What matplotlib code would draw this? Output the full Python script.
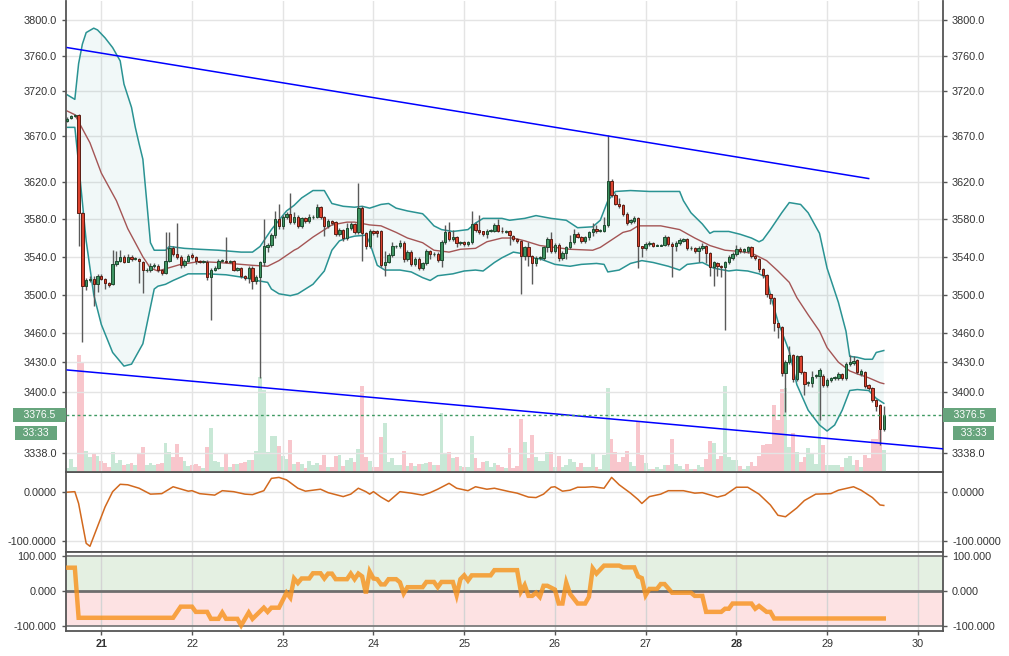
import matplotlib

matplotlib.use("Agg")
import matplotlib.pyplot as plt
import numpy as np
from matplotlib.ticker import FixedLocator, FormatStrFormatter, NullLocator

plt.rcParams["font.family"] = ["Liberation Sans", "DejaVu Sans"]

# hourly candles, the first one opens on the 20th at 15:00
start_hour = 15
opens = [
    3687, 3690, 3692, 3694, 3587, 3509, 3516, 3517, 3511, 3520,
    3517, 3512, 3511, 3532, 3536, 3540, 3535, 3540, 3538, 3538,
    3534, 3526, 3526, 3530, 3530, 3526, 3523, 3536, 3549, 3543,
    3540, 3531, 3536, 3542, 3540, 3536, 3535, 3535, 3519, 3526,
    3528, 3536, 3536, 3534, 3536, 3526, 3528, 3520, 3518, 3528,
    3514, 3519, 3534, 3550, 3553, 3563, 3580, 3573, 3583, 3586,
    3577, 3583, 3573, 3581, 3578, 3582, 3583, 3593, 3583, 3573,
    3578, 3577, 3564, 3569, 3560, 3571, 3575, 3566, 3592, 3565,
    3551, 3568, 3568, 3568, 3531, 3535, 3542, 3551, 3551, 3555,
    3538, 3545, 3532, 3538, 3528, 3533, 3546, 3543, 3543, 3537,
    3556, 3566, 3559, 3561, 3555, 3556, 3554, 3556, 3575, 3569,
    3567, 3564, 3568, 3568, 3574, 3568, 3566, 3568, 3562, 3559,
    3557, 3541, 3550, 3541, 3533, 3539, 3539, 3550, 3559, 3546,
    3553, 3539, 3544, 3550, 3556, 3564, 3561, 3557, 3561, 3566,
    3570, 3568, 3568, 3574, 3621, 3606, 3597, 3595, 3586, 3577,
    3578, 3581, 3551, 3549, 3554, 3555, 3552, 3552, 3553, 3561,
    3554, 3551, 3555, 3557, 3559, 3549, 3549, 3546, 3549, 3552,
    3544, 3529, 3533, 3530, 3529, 3534, 3539, 3543, 3548, 3546,
    3546, 3550, 3541, 3538, 3527, 3521, 3501, 3497, 3470, 3466,
    3419, 3430, 3437, 3413, 3436, 3420, 3409, 3409, 3416, 3416,
    3416, 3407, 3412, 3414, 3414, 3418, 3414, 3428, 3429, 3432,
    3418, 3420, 3407, 3404, 3391, 3386, 3362,
]
highs = [
    3691, 3694, 3695, 3695, 3588, 3518, 3520, 3520, 3522, 3522,
    3518, 3513, 3547, 3546, 3547, 3542, 3543, 3542, 3540, 3539,
    3536, 3528, 3533, 3533, 3532, 3527, 3566, 3566, 3551, 3576,
    3542, 3538, 3543, 3544, 3541, 3537, 3537, 3537, 3528, 3530,
    3538, 3538, 3561, 3537, 3537, 3529, 3529, 3521, 3530, 3530,
    3521, 3536, 3580, 3555, 3565, 3589, 3597, 3585, 3588, 3608,
    3588, 3585, 3583, 3582, 3586, 3585, 3596, 3594, 3584, 3580,
    3579, 3578, 3571, 3570, 3576, 3577, 3576, 3619, 3594, 3566,
    3570, 3569, 3569, 3569, 3546, 3544, 3556, 3553, 3558, 3557,
    3547, 3547, 3540, 3540, 3535, 3548, 3547, 3545, 3545, 3558,
    3574, 3577, 3569, 3562, 3557, 3557, 3557, 3589, 3577, 3585,
    3568, 3570, 3570, 3576, 3580, 3572, 3569, 3569, 3563, 3560,
    3558, 3552, 3556, 3542, 3541, 3541, 3552, 3561, 3566, 3555,
    3555, 3546, 3552, 3563, 3570, 3566, 3562, 3562, 3568, 3576,
    3574, 3570, 3582, 3672, 3623, 3608, 3603, 3596, 3588, 3580,
    3584, 3583, 3552, 3556, 3557, 3556, 3554, 3554, 3563, 3562,
    3556, 3557, 3560, 3560, 3560, 3551, 3550, 3551, 3555, 3553,
    3545, 3536, 3535, 3531, 3536, 3542, 3545, 3553, 3550, 3549,
    3552, 3551, 3542, 3539, 3528, 3522, 3502, 3498, 3471, 3467,
    3432, 3447, 3438, 3437, 3437, 3421, 3411, 3421, 3418, 3424,
    3418, 3414, 3415, 3416, 3420, 3419, 3430, 3437, 3436, 3433,
    3423, 3421, 3408, 3405, 3392, 3387, 3385,
]
lows = [
    3686, 3689, 3691, 3551, 3451, 3505, 3513, 3488, 3503, 3515,
    3506, 3508, 3510, 3530, 3534, 3533, 3534, 3536, 3537, 3512,
    3502, 3524, 3524, 3528, 3524, 3521, 3522, 3534, 3541, 3538,
    3528, 3529, 3535, 3538, 3532, 3533, 3533, 3516, 3474, 3525,
    3527, 3535, 3533, 3533, 3525, 3525, 3518, 3515, 3512, 3506,
    3511, 3414, 3530, 3545, 3550, 3560, 3570, 3570, 3580, 3575,
    3575, 3571, 3571, 3576, 3576, 3580, 3581, 3580, 3562, 3571,
    3574, 3562, 3562, 3557, 3558, 3569, 3564, 3564, 3536, 3548,
    3549, 3563, 3561, 3529, 3520, 3533, 3540, 3549, 3549, 3535,
    3536, 3530, 3530, 3526, 3526, 3531, 3538, 3541, 3535, 3529,
    3554, 3557, 3557, 3550, 3553, 3552, 3552, 3554, 3566, 3564,
    3562, 3560, 3566, 3566, 3566, 3565, 3565, 3553, 3557, 3555,
    3501, 3537, 3530, 3511, 3530, 3537, 3537, 3545, 3544, 3544,
    3536, 3537, 3538, 3548, 3554, 3560, 3555, 3555, 3558, 3562,
    3565, 3566, 3566, 3572, 3604, 3595, 3592, 3584, 3574, 3575,
    3576, 3528, 3540, 3547, 3552, 3550, 3551, 3551, 3551, 3552,
    3519, 3546, 3553, 3556, 3547, 3547, 3544, 3535, 3547, 3533,
    3520, 3509, 3520, 3519, 3463, 3532, 3537, 3541, 3544, 3544,
    3544, 3539, 3537, 3524, 3518, 3498, 3490, 3462, 3455, 3416,
    3379, 3428, 3410, 3411, 3418, 3396, 3406, 3405, 3414, 3371,
    3405, 3405, 3410, 3412, 3412, 3412, 3412, 3426, 3427, 3418,
    3416, 3404, 3402, 3389, 3380, 3346, 3360,
]
closes = [
    3689, 3692, 3694, 3587, 3509, 3516, 3516.5, 3511, 3520, 3517,
    3512, 3510, 3532, 3536, 3540, 3535, 3540, 3538, 3538.5, 3536,
    3526, 3526.5, 3530, 3531, 3526, 3523, 3536, 3549, 3543, 3540,
    3531, 3536, 3541, 3540, 3536, 3534, 3535.5, 3519, 3526, 3528,
    3536, 3536.5, 3534, 3536, 3526, 3528, 3520, 3518, 3528, 3514,
    3519, 3534, 3551, 3553, 3563, 3580, 3573, 3583, 3586, 3577,
    3583, 3573, 3581, 3578, 3582, 3583, 3593, 3583, 3573, 3578,
    3576, 3564, 3569, 3560, 3571, 3575, 3566, 3592, 3565, 3551,
    3568, 3565, 3565, 3531, 3535, 3542, 3551, 3551.5, 3555, 3538,
    3545, 3532, 3538, 3528, 3533, 3546, 3543, 3543.5, 3537, 3556,
    3566, 3559, 3561, 3555, 3555.5, 3554, 3556, 3575, 3569, 3566,
    3564, 3568, 3568.5, 3574, 3568, 3567, 3568, 3563, 3559, 3557,
    3541, 3550, 3541, 3533, 3539, 3539.5, 3550, 3559, 3546, 3553,
    3539, 3544, 3550, 3556, 3564, 3561, 3557, 3561, 3566, 3570,
    3567, 3568.5, 3574, 3621, 3606, 3597, 3594, 3586, 3576, 3579,
    3581, 3551, 3549, 3554, 3555, 3552, 3552.5, 3553, 3561, 3554,
    3551, 3555, 3558, 3559, 3549, 3549.5, 3546, 3549, 3552, 3544,
    3529, 3534, 3530, 3529, 3534, 3540, 3543, 3548, 3546, 3548,
    3550, 3541, 3539, 3527, 3521, 3501, 3497, 3470, 3466, 3419,
    3430, 3437, 3413, 3436, 3420, 3408, 3409.5, 3415, 3416.5, 3422,
    3407, 3412, 3414, 3414.5, 3418, 3414, 3428, 3430, 3431, 3420,
    3421, 3406, 3404, 3391, 3385, 3362, 3376.5,
]
volumes = [
    4, 13, 5, 117, 109, 21, 15, 19, 16, 11,
    9, 5, 20, 9, 12, 7, 8, 9, 7, 19,
    25, 7, 9, 7, 8, 9, 29, 20, 15, 28,
    15, 11, 6, 7, 8, 6, 4, 25, 44, 11,
    10, 5, 18, 5, 8, 8, 9, 10, 12, 12,
    21, 95, 82, 20, 36, 36, 26, 16, 13, 32,
    8, 10, 8, 4, 11, 7, 9, 7, 17, 5,
    5, 16, 17, 6, 12, 14, 10, 23, 86, 15,
    11, 5, 5, 35, 49, 10, 14, 7, 7, 21,
    6, 9, 6, 8, 8, 9, 10, 7, 7, 59,
    19, 20, 14, 15, 6, 5, 5, 36, 14, 4,
    10, 11, 5, 9, 7, 5, 4, 24, 4, 6,
    53, 30, 14, 37, 15, 11, 11, 20, 20, 5,
    16, 5, 7, 13, 10, 5, 9, 5, 5, 19,
    5, 3, 17, 84, 33, 20, 10, 15, 21, 10,
    6, 50, 17, 9, 3, 3, 5, 3, 7, 7,
    33, 8, 6, 3, 8, 3, 3, 7, 5, 13,
    31, 29, 13, 16, 86, 15, 12, 12, 6, 3,
    6, 10, 6, 16, 27, 28, 28, 67, 52, 83,
    84, 25, 39, 20, 10, 15, 24, 19, 8, 102,
    27, 7, 7, 7, 7, 5, 14, 16, 7, 12,
    5, 17, 14, 33, 33, 42, 22,
]

# bollinger band at these candle numbers
bb_upper_idx = [0, 2, 3, 4, 5, 7, 8, 10, 12, 14, 15, 17, 18, 19, 20, 21, 22, 23, 26, 27,
                31, 35, 40, 46, 49, 51, 54, 58, 60, 62, 65, 68, 70, 73, 76, 78, 80, 83, 85, 87,
                90, 94, 95, 97, 99, 102, 106, 108, 110, 115, 117, 121, 124, 128, 132, 135, 139, 141, 143, 145,
                149, 154, 162, 163, 165, 168, 170, 171, 175, 178, 181, 183, 184, 186, 189, 191, 194, 196, 199, 201,
                204, 206, 207, 209, 211, 213, 214, 216]
bb_upper = [3716, 3711, 3751, 3773, 3786, 3791, 3789, 3780, 3769, 3754, 3728, 3702, 3680, 3662, 3645, 3600, 3555, 3547, 3547, 3551,
            3549, 3548, 3547, 3545, 3545, 3551, 3569, 3589, 3595, 3603, 3611, 3611, 3597, 3594, 3593, 3594, 3592, 3596, 3597, 3592,
            3589, 3586, 3582, 3573, 3569, 3567, 3569, 3576, 3581, 3581, 3579, 3581, 3584, 3581, 3579, 3571, 3572, 3579, 3600, 3610,
            3611, 3610, 3610, 3600, 3587, 3575, 3565, 3567, 3567, 3564, 3560, 3556, 3558, 3569, 3587, 3598, 3596, 3587, 3565, 3528,
            3492, 3462, 3436, 3435, 3433, 3433, 3440, 3442]
bb_lower_idx = [0, 2, 3, 5, 7, 9, 12, 15, 17, 20, 22, 23, 24, 26, 28, 32, 37, 42, 47, 50,
                53, 54, 56, 59, 61, 65, 68, 70, 72, 74, 76, 79, 80, 82, 84, 88, 91, 94, 96, 98,
                102, 105, 108, 110, 113, 115, 118, 121, 124, 125, 129, 133, 136, 140, 142, 143, 146, 149, 152, 155,
                159, 162, 164, 168, 171, 175, 177, 180, 183, 185, 186, 188, 191, 193, 196, 199, 201, 203, 205, 207,
                209, 212, 214, 216]
bb_lower = [3680, 3680, 3640, 3557, 3500, 3469, 3440, 3426, 3428, 3449, 3487, 3506, 3509, 3511, 3515, 3522, 3522, 3521, 3518, 3515,
            3513, 3506, 3501, 3499, 3501, 3511, 3525, 3547, 3557, 3560, 3562, 3563, 3555, 3531, 3526, 3526, 3524, 3518, 3515, 3520,
            3522, 3525, 3526, 3525, 3534, 3539, 3545, 3543, 3538, 3538, 3532, 3530, 3532, 3533, 3532, 3524, 3526, 3533, 3536, 3534,
            3530, 3526, 3532, 3534, 3528, 3525, 3526, 3525, 3522, 3518, 3500, 3472, 3441, 3407, 3381, 3366, 3360, 3366, 3381, 3401,
            3402, 3401, 3393, 3388]
bb_mid_idx = [0, 2, 6, 9, 13, 16, 20, 22, 24, 30, 35, 40, 46, 49, 53, 56, 60, 61, 65, 70,
              74, 76, 80, 83, 87, 90, 94, 97, 101, 104, 108, 111, 115, 118, 121, 125, 129, 133, 139, 141,
              144, 147, 149, 151, 157, 162, 166, 170, 174, 177, 181, 183, 185, 188, 191, 193, 196, 199, 201, 204,
              207, 209, 212, 215, 216]
bb_mid = [3698, 3694, 3663, 3630, 3600, 3570, 3540, 3528, 3525, 3532, 3535, 3534, 3532, 3531, 3530, 3536, 3547, 3549, 3561, 3574,
          3577, 3577, 3574, 3573, 3566, 3560, 3555, 3547, 3545, 3548, 3549, 3556, 3560, 3560, 3557, 3552, 3550, 3548, 3547, 3550,
          3558, 3566, 3568, 3573, 3573, 3569, 3560, 3552, 3547, 3546, 3544, 3540, 3536, 3525, 3513, 3497, 3479, 3462, 3445, 3430,
          3421, 3418, 3414, 3409, 3408]

# the two channel lines: (candle number, price) at each end
upper_trend_idx = [0, 212]
upper_trend = [3769, 3624]
lower_trend_idx = [0, 232]
lower_trend = [3422, 3342]

# middle panel oscillator
osc_idx = [0, 2, 3, 5, 6, 8, 10, 12, 14, 16, 19, 22, 25, 28, 32, 33, 35, 39, 41, 44,
           47, 49, 52, 54, 56, 58, 61, 63, 67, 69, 73, 75, 77, 79, 80, 81, 83, 85, 88, 91,
           94, 96, 98, 101, 103, 106, 108, 111, 113, 117, 119, 122, 124, 126, 128, 129, 131, 133, 135, 137,
           139, 142, 144, 146, 149, 151, 152, 154, 157, 159, 163, 166, 168, 172, 174, 177, 180, 183, 186, 188,
           190, 193, 195, 198, 202, 204, 208, 210, 213, 215, 216]
osc = [-1, 0, -24, -105, -111, -71, -31, 0, 15, 14, 7, -5, -4, 10, 1, 2, -4, -7, 2, 0,
       -5, -6, 2, 27, 29, 24, 7, 1, 5, -2, -10, -5, 7, 0, -5, 0, -11, -20, 0, -3,
       -7, -2, 5, 17, 7, 2, 10, 5, 7, 0, -3, -11, -12, -5, 9, 10, 1, 3, 9, 9,
       10, 7, 29, 14, -3, -16, -24, -10, -5, 2, 2, -3, -2, -11, -7, 9, 9, -5, -27, -48,
       -51, -33, -18, -5, -4, 3, 10, 3, -12, -27, -28]

# bottom panel oscillator
aroon_idx = [0, 2, 3, 28, 30, 33, 34, 37, 38, 40, 41, 42, 45, 46, 48, 49, 52, 53, 54, 56,
             58, 59, 60, 61, 62, 64, 65, 67, 68, 69, 70, 71, 74, 75, 76, 77, 78, 79, 80, 81,
             82, 83, 84, 85, 87, 88, 89, 90, 94, 95, 97, 98, 99, 102, 103, 104, 105, 106, 107, 112,
             113, 119, 120, 121, 122, 123, 124, 125, 126, 127, 129, 130, 131, 132, 133, 135, 137, 138, 139, 140,
             142, 146, 147, 150, 151, 152, 153, 154, 156, 157, 158, 160, 165, 166, 168, 169, 173, 174, 175, 176,
             181, 182, 183, 185, 186, 187, 216]
aroon = [67, 67, -77, -77, -45, -45, -60, -60, -80, -80, -62, -80, -80, -99, -62, -80, -48, -60, -48, -48,
         -5, -19, 36, 23, 36, 36, 51, 51, 36, 50, 50, 34, 34, 50, 34, 50, 42, -7, 56, 36,
         34, 19, 19, 34, 34, 25, -7, 11, 11, 26, 26, 11, 26, 26, -12, 34, 45, 30, 45, 45,
         60, 60, -2, 17, -14, -14, -5, -17, 15, 15, 4, -36, -36, 24, -8, -36, -36, -17, 65, 50,
         73, 73, 68, 68, 42, 37, -12, 6, 6, 20, 20, -5, -5, -14, -14, -60, -60, -51, -51, -36,
         -36, -51, -43, -60, -60, -79, -79]

price_ticks = [3338.0, 3400.0, 3430.0, 3460.0, 3500.0, 3540.0, 3580.0, 3620.0, 3670.0, 3720.0, 3760.0, 3800.0]
days = list(range(21, 31))
bold_days = [21, 28]
countdown = "33:33"

TEXT = "#333333"
SPINE = "#555555"
GRID = "#e4e4e4"

o = np.array(opens, dtype=float)
h = np.array(highs, dtype=float)
l = np.array(lows, dtype=float)
c = np.array(closes, dtype=float)
hours = start_hour + np.arange(len(c))
up = c >= o


def at(idx):
    return start_hour + np.asarray(idx, dtype=float)


fig = plt.figure(figsize=(10.09, 6.56), dpi=100)
left, width = 0.0651, 0.8695
ax = fig.add_axes([left, 0.2805, width, 0.718])
ax2 = fig.add_axes([left, 0.159, width, 0.1215], sharex=ax)
ax3 = fig.add_axes([left, 0.0381, width, 0.1209], sharex=ax)

# volume sits behind the price panel
vax = ax.twinx()
vax.bar(hours, volumes, width=1.0, color=np.where(up, "#c8e8d6", "#f8c6cc"), linewidth=0)
vax.set_ylim(0, 471)
vax.axis("off")
ax.set_zorder(vax.get_zorder() + 1)
ax.patch.set_visible(False)

ax.set_yscale("log")
ax.set_axisbelow(True)

ax.fill(np.r_[at(bb_upper_idx), at(bb_lower_idx)[::-1]], np.r_[bb_upper, bb_lower[::-1]],
        color="#1a8a8a", alpha=0.06, linewidth=0, zorder=1)
ax.plot(at(bb_upper_idx), bb_upper, color="#2a9393", linewidth=1.1, zorder=2)
ax.plot(at(bb_lower_idx), bb_lower, color="#2a9393", linewidth=1.1, zorder=2)
ax.plot(at(bb_mid_idx), bb_mid, color="#a45555", linewidth=1.0, zorder=2)

ax.vlines(hours, l, h, color="#5a5a5a", linewidth=1.0, zorder=3)
body_lo = np.minimum(o, c)
body_h = np.maximum(np.abs(c - o), 0.5)
ax.bar(hours[up], body_h[up], bottom=body_lo[up], width=0.62, color="#3f9462",
       edgecolor="#1d4a2f", linewidth=0.7, zorder=4)
ax.bar(hours[~up], body_h[~up], bottom=body_lo[~up], width=0.62, color="#dc432f",
       edgecolor="#5c1d13", linewidth=0.7, zorder=4)

ax.plot(at(upper_trend_idx), upper_trend, color="#0000ff", linewidth=1.1, zorder=5)
ax.plot(at(lower_trend_idx), lower_trend, color="#0000ff", linewidth=1.1, zorder=5)

last = closes[-1]
ax.axhline(last, color="#3f9a62", linestyle=(0, (2, 2)), linewidth=1.0, zorder=5)
box = dict(boxstyle="square,pad=0.2", fc="#67a57d", ec="none")
label_kw = dict(xycoords=("axes fraction", "data"), textcoords="offset pixels", va="center",
                color="white", fontsize=7.5, bbox=box, annotation_clip=False, zorder=10)
ax.annotate(f"   {last:.1f}   ", xy=(1, last), xytext=(2.4, 0), ha="left", **label_kw)
ax.annotate(f"  {countdown}  ", xy=(1, last), xytext=(49, -18), ha="right", **label_kw)
ax.annotate(f"   {last:.1f}   ", xy=(0, last), xytext=(-2.2, 0), ha="right", **label_kw)
ax.annotate(f"  {countdown}  ", xy=(0, last), xytext=(-48.5, -18), ha="left", **label_kw)

ax.set_ylim(3319, 3822)
ax.yaxis.set_major_locator(FixedLocator(price_ticks))
ax.yaxis.set_major_formatter(FormatStrFormatter("%.1f"))
ax.yaxis.set_minor_locator(NullLocator())
ax.grid(True, color=GRID, linewidth=1.0)

ax.set_xlim(14.58, 246.67)
ax.xaxis.set_major_locator(FixedLocator([(d - 20) * 24 for d in days]))
ax.xaxis.set_minor_locator(NullLocator())

# middle panel
ax2.plot(at(osc_idx), osc, color="#d2691e", linewidth=1.1)
ax2.set_ylim(-122, 40)
ax2.yaxis.set_major_locator(FixedLocator([-100, 0]))
ax2.yaxis.set_major_formatter(FormatStrFormatter("%.4f"))
ax2.grid(True, color=GRID, linewidth=1.0)
ax2.set_axisbelow(True)

# bottom panel
ax3.axhspan(0, 100, color="#e4f0e2", linewidth=0, zorder=0.2)
ax3.axhspan(-100, 0, color="#fde2e3", linewidth=0, zorder=0.2)
ax3.grid(True, axis="x", color="#d4d4d4", linewidth=1.0)
ax3.axhline(100, color="#7c7c7c", linewidth=1.3, zorder=2)
ax3.axhline(-100, color="#7c7c7c", linewidth=1.3, zorder=2)
ax3.axhline(0, color="#6e6e6e", linewidth=2.0, zorder=2)
ax3.plot(at(aroon_idx), aroon, color="#f7931e", alpha=0.82, linewidth=3.2, zorder=3,
         solid_joinstyle="miter")
ax3.set_ylim(-115, 113)
ax3.yaxis.set_major_locator(FixedLocator([-100, 0, 100]))
ax3.yaxis.set_major_formatter(FormatStrFormatter("%.3f"))
ax3.set_xticklabels([str(d) for d in days])
for label, d in zip(ax3.get_xticklabels(), days):
    if d in bold_days:
        label.set_fontweight("bold")

for a in (ax, ax2, ax3):
    for side in ("left", "right", "bottom", "top"):
        a.spines[side].set_color(SPINE)
        a.spines[side].set_linewidth(1.3)
    a.tick_params(axis="y", which="both", left=True, right=True, labelleft=True, labelright=True,
                  length=3, width=1, pad=3.5, colors=SPINE, labelcolor=TEXT, labelsize=7.8)
ax.spines["top"].set_visible(False)
ax.tick_params(axis="x", bottom=False, labelbottom=False)
ax2.tick_params(axis="x", bottom=False, labelbottom=False)
ax3.tick_params(axis="x", bottom=True, labelbottom=True, length=3, width=1, pad=3,
                colors=SPINE, labelcolor=TEXT, labelsize=7.8)

fig.savefig("out.png", dpi=100, facecolor="white")
plt.close(fig)
